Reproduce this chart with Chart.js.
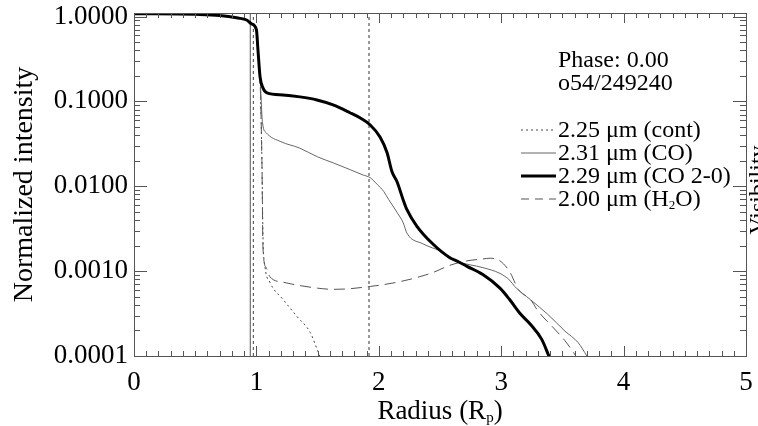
<!DOCTYPE html>
<html><head><meta charset="utf-8">
<script src="https://cdn.jsdelivr.net/npm/chart.js@4"></script>
<style>html,body{margin:0;padding:0;background:#fff;overflow:hidden}#wrap{width:758px;height:426px}</style>
</head><body><div id="wrap"><canvas id="c" width="758" height="426"></canvas></div>
<script>
// ---- data ----
const xTickValues = [0, 1, 2, 3, 4, 5];
const yTickValues = [0.0001, 0.001, 0.01, 0.1, 1];
const xRange = [0, 5];
const yRange = [0.0001, 1.1];

const rCO20 = [0, 0.5, 0.7, 0.85, 0.92, 0.96, 1.0, 1.013, 1.03, 1.054, 1.087, 1.217, 1.356, 1.495, 1.626, 1.765, 1.846, 1.928, 2.01, 2.067, 2.108, 2.149, 2.198, 2.23, 2.31, 2.44, 2.58, 2.64, 2.72, 2.85, 2.99, 3.07, 3.16, 3.24, 3.33, 3.39, 3.42];
const vCO20 = [1.08, 1.06, 1.03, 0.96, 0.91, 0.82, 0.70, 0.40, 0.194, 0.144, 0.126, 0.119, 0.113, 0.104, 0.091, 0.0735, 0.064, 0.053, 0.038, 0.025, 0.0148, 0.0113, 0.0070, 0.0053, 0.0034, 0.0021, 0.00144, 0.00131, 0.00114, 0.00091, 0.00063, 0.00046, 0.00031, 0.000235, 0.000158, 0.0001, 0.00008];

const rCO = [0, 0.5, 0.7, 0.85, 0.92, 0.96, 1.0, 1.013, 1.03, 1.05, 1.08, 1.2, 1.35, 1.5, 1.63, 1.77, 1.87, 1.93, 1.99, 2.04, 2.08, 2.15, 2.2, 2.23, 2.36, 2.52, 2.64, 2.85, 2.99, 3.07, 3.11, 3.24, 3.38, 3.52, 3.63, 3.7, 3.72];
const vCO = [1.08, 1.06, 1.03, 0.96, 0.91, 0.82, 0.70, 0.40, 0.19, 0.0558, 0.0428, 0.0335, 0.0283, 0.0222, 0.0188, 0.0156, 0.0136, 0.0126, 0.0104, 0.0087, 0.0070, 0.0049, 0.0037, 0.0028, 0.0021, 0.00168, 0.00131, 0.00110, 0.00094, 0.00078, 0.00066, 0.00046, 0.00031, 0.000197, 0.000143, 0.0001, 0.00009];

const rH2O = [0, 0.5, 0.7, 0.85, 0.92, 0.96, 1.0, 1.013, 1.03, 1.045, 1.054, 1.08, 1.11, 1.22, 1.5, 1.63, 1.76, 1.93, 2.03, 2.17, 2.31, 2.44, 2.58, 2.72, 2.85, 2.91, 2.99, 3.07, 3.14, 3.24, 3.3, 3.42, 3.52, 3.61, 3.63];
const vH2O = [1.08, 1.06, 1.03, 0.96, 0.91, 0.82, 0.70, 0.40, 0.18, 0.02, 0.0018, 0.0011, 0.00086, 0.00074, 0.00063, 0.00061, 0.00062, 0.00066, 0.00069, 0.00075, 0.00084, 0.00096, 0.00117, 0.00132, 0.00139, 0.00142, 0.00132, 0.00098, 0.00061, 0.00046, 0.00034, 0.00022, 0.000152, 0.0001, 0.00009];

const rCont = [0, 0.5, 0.7, 0.85, 0.92, 0.96, 1.0, 1.013, 1.03, 1.045, 1.054, 1.07, 1.11, 1.22, 1.33, 1.44, 1.5, 1.53];
const vCont = [1.08, 1.06, 1.03, 0.96, 0.91, 0.82, 0.70, 0.40, 0.18, 0.02, 0.0025, 0.00114, 0.00074, 0.00046, 0.000294, 0.000189, 0.000116, 0.00009];

const refLineR = [0.95, 0.975, 1.92];

const legendLabels = ['2.25 μm (cont)', '2.31 μm (CO)', '2.29 μm (CO 2-0)', '2.00 μm (H_2O)'];
const infoLines = ['Phase: 0.00', 'o54/249240'];
const xTitle = 'Radius (R_p)';
const yTitle = 'Normalized intensity';
const y2Title = 'Visibility';

// ---- styles ----
const FONT = '"Liberation Serif", "Times New Roman", serif';
const seriesStyles = [
  {color: '#000', width: 3, dash: []},          // CO 2-0
  {color: '#666', width: 1, dash: []},          // CO
  {color: '#555', width: 1, dash: [11, 6]},     // H2O
  {color: '#444', width: 1, dash: [2, 3]}       // cont
];
const refStyles = [
  {color: '#555', dash: []},
  {color: '#444', dash: [3, 3]},
  {color: '#333', dash: [3, 3]}
];

const pts = (r, v) => r.map((x, i) => ({x, y: v[i]}));
const mkLine = (data, s) => ({
  data, borderColor: s.color, borderWidth: s.width, borderDash: s.dash,
  pointRadius: 0, fill: false, cubicInterpolationMode: 'monotone'
});

const datasets = [
  mkLine(pts(rCO20, vCO20), seriesStyles[0]),
  mkLine(pts(rCO, vCO), seriesStyles[1]),
  mkLine(pts(rH2O, vH2O), seriesStyles[2]),
  mkLine(pts(rCont, vCont), seriesStyles[3])
];
refLineR.forEach((r, i) => {
  datasets.push({
    data: [{x: r, y: yRange[0]}, {x: r, y: yRange[1]}],
    borderColor: refStyles[i].color, borderWidth: 1, borderDash: refStyles[i].dash,
    pointRadius: 0, fill: false
  });
});

function drawSubText(ctx, text, x, y, size, align) {
  // text with "_c" meaning subscript c
  const parts = [];
  let i = 0, buf = '';
  while (i < text.length) {
    if (text[i] === '_') { parts.push({t: buf, sub: false}); buf = ''; parts.push({t: text[i+1], sub: true}); i += 2; }
    else { buf += text[i]; i++; }
  }
  if (buf) parts.push({t: buf, sub: false});
  const subSize = Math.round(size * 0.55);
  let total = 0;
  parts.forEach(p => { ctx.font = (p.sub ? subSize : size) + 'px ' + FONT; p.w = ctx.measureText(p.t).width; total += p.w; });
  let cx = align === 'center' ? x - total / 2 : x;
  ctx.textAlign = 'left';
  ctx.textBaseline = 'alphabetic';
  parts.forEach(p => {
    ctx.font = (p.sub ? subSize : size) + 'px ' + FONT;
    ctx.fillText(p.t, cx, p.sub ? y + 3 : y);
    cx += p.w;
  });
}

const decor = {
  id: 'decor',
  afterDraw(chart) {
    const {ctx, chartArea: a, scales: {x, y}} = chart;
    ctx.save();
    // frame
    ctx.strokeStyle = '#555'; ctx.lineWidth = 1; ctx.setLineDash([]);
    ctx.strokeRect(Math.round(a.left) + 0.5, Math.round(a.top) + 0.5, Math.round(a.right - a.left), Math.round(a.bottom - a.top));
    ctx.beginPath();
    // x ticks (bottom & top), minor every 0.1
    for (let i = 0; i <= 50; i++) {
      const px = Math.round(x.getPixelForValue(i / 10)) + 0.5;
      const len = i % 10 === 0 ? 10 : 5;
      ctx.moveTo(px, a.bottom); ctx.lineTo(px, a.bottom - len);
      ctx.moveTo(px, a.top); ctx.lineTo(px, a.top + len);
    }
    // y ticks (left & right), log minors
    for (let k = -4; k <= 0; k++) {
      for (let m = 1; m <= 9; m++) {
        const v = m * Math.pow(10, k);
        if (v > yRange[1] + 1e-12) continue;
        const py = Math.round(y.getPixelForValue(v)) + 0.5;
        const len = m === 1 ? 13 : 6;
        ctx.moveTo(a.left, py); ctx.lineTo(a.left + len, py);
        ctx.moveTo(a.right, py); ctx.lineTo(a.right - len, py);
      }
    }
    ctx.stroke();

    ctx.fillStyle = '#000';
    // info text
    ctx.font = '24px ' + FONT; ctx.textAlign = 'left'; ctx.textBaseline = 'alphabetic';
    ctx.fillText(infoLines[0], 558, 67);
    ctx.fillText(infoLines[1], 558, 90);
    // legend
    const rows = [137, 160, 183, 206];
    const order = [3, 1, 0, 2];
    legendLabels.forEach((lab, i) => {
      const s = seriesStyles[order[i]];
      ctx.strokeStyle = s.color; ctx.lineWidth = s.width; ctx.setLineDash(s.dash.length ? (i === 3 ? [8, 6] : s.dash) : []);
      ctx.beginPath(); ctx.moveTo(521, rows[i] - 7); ctx.lineTo(556, rows[i] - 7); ctx.stroke();
      ctx.fillStyle = '#000';
      drawSubText(ctx, lab, 558, rows[i], 24, 'left');
    });
    ctx.setLineDash([]);
    // x title
    drawSubText(ctx, xTitle, (a.left + a.right) / 2, 419, 27, 'center');
    // right (secondary) title, cut off by the page edge
    ctx.save();
    ctx.translate(765, 190); ctx.rotate(-Math.PI / 2);
    ctx.font = '24px ' + FONT; ctx.textAlign = 'center'; ctx.textBaseline = 'alphabetic';
    ctx.fillText(y2Title, 0, 0);
    ctx.restore();
    ctx.restore();
  }
};

new Chart(document.getElementById('c'), {
  type: 'line',
  data: {datasets},
  plugins: [decor],
  options: {
    responsive: false, animation: false,
    layout: {padding: {left: 0, right: 12, top: 13, bottom: 0}},
    plugins: {legend: {display: false}, tooltip: {enabled: false}},
    scales: {
      x: {
        type: 'linear', min: xRange[0], max: xRange[1],
        afterBuildTicks: s => { s.ticks = xTickValues.map(v => ({value: v})); },
        ticks: {font: {family: FONT, size: 27}, color: '#000', padding: 11, maxRotation: 0, autoSkip: false},
        grid: {display: false, drawTicks: false},
        border: {display: false},
        afterFit: s => { s.height = 70; s.paddingLeft = 0; s.paddingRight = 0; }
      },
      y: {
        type: 'logarithmic', min: yRange[0], max: yRange[1],
        afterBuildTicks: s => { s.ticks = yTickValues.map(v => ({value: v})); },
        ticks: {font: {family: FONT, size: 27}, color: '#000', padding: 6, callback: v => Number(v).toFixed(4)},
        grid: {display: false, drawTicks: false},
        border: {display: false},
        title: {display: true, text: yTitle, font: {family: FONT, size: 28}, color: '#000', padding: {top: 8, bottom: 0}},
        afterFit: s => { s.width = 134; s.paddingTop = 0; s.paddingBottom = 0; }
      }
    }
  }
});
</script></body></html>
